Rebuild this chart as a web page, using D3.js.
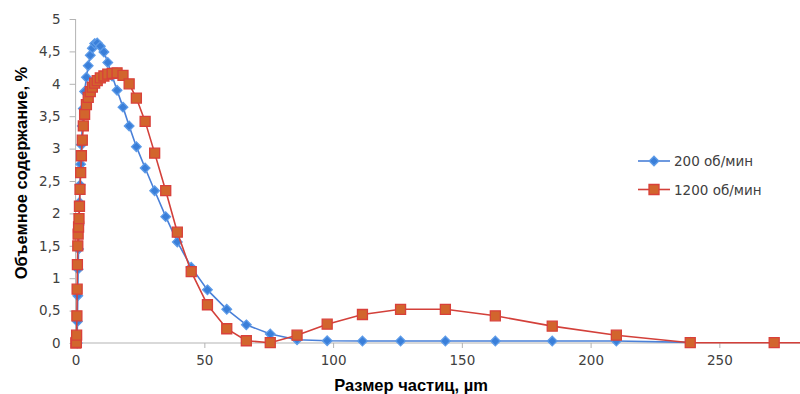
<!DOCTYPE html>
<html>
<head>
<meta charset="utf-8">
<script src="https://cdn.jsdelivr.net/npm/d3@7/dist/d3.min.js"></script>
<style>
  html, body { margin: 0; padding: 0; background: #fff; }
  svg { display: block; }
</style>
</head>
<body>
<svg id="chart" width="800" height="394"></svg>
<script>
// ---- data ----
const seriesNames = ["200 об/мин", "1200 об/мин"];
const xTicks = [0, 50, 100, 150, 200, 250];
const yTicks = [0, 0.5, 1, 1.5, 2, 2.5, 3, 3.5, 4, 4.5, 5];

const blueX = [0.6, 0.7, 0.85, 0.98, 1.15, 1.32, 1.5, 1.72, 1.97, 2.25, 2.6, 3.0, 3.5, 4.2, 4.9, 5.7, 6.5, 7.4, 8.4, 9.6, 11.0, 12.5, 14.2, 16.1, 18.4, 20.8, 23.6, 27.0, 30.7, 35.0, 39.5, 44.9, 51.2, 58.7, 66.3, 75.6, 86.0, 97.7, 111.4, 126.2, 143.6, 163.0, 185.1, 210.0, 238.7];
const blueY = [0, 0.33, 0.73, 1.14, 1.45, 1.82, 2.17, 2.44, 2.76, 3.06, 3.35, 3.62, 3.88, 4.10, 4.28, 4.44, 4.55, 4.62, 4.63, 4.58, 4.49, 4.33, 4.12, 3.90, 3.64, 3.35, 3.03, 2.70, 2.35, 1.95, 1.56, 1.17, 0.82, 0.52, 0.28, 0.14, 0.05, 0.035, 0.03, 0.03, 0.03, 0.03, 0.03, 0.03, 0.01];

const redX = [0.1, 0.3, 0.4, 0.5, 0.6, 0.7, 0.85, 0.98, 1.15, 1.32, 1.5, 1.72, 1.97, 2.25, 2.6, 3.0, 3.5, 4.2, 4.9, 5.7, 6.5, 7.4, 8.4, 9.6, 11.0, 12.5, 14.2, 16.1, 18.4, 20.8, 23.6, 27.0, 30.7, 35.0, 39.5, 44.9, 51.2, 58.7, 66.3, 75.6, 86.0, 97.7, 111.4, 126.2, 143.6, 163.0, 185.1, 210.0, 238.7, 271.3, 308.0];
const redY = [0, 0.01, 0.12, 0.42, 0.83, 1.21, 1.50, 1.68, 1.79, 1.92, 2.11, 2.37, 2.63, 2.89, 3.13, 3.35, 3.53, 3.68, 3.79, 3.88, 3.95, 4.01, 4.05, 4.09, 4.12, 4.15, 4.16, 4.17, 4.13, 4.00, 3.78, 3.42, 2.93, 2.35, 1.71, 1.10, 0.59, 0.22, 0.035, 0.005, 0.12, 0.29, 0.44, 0.52, 0.52, 0.42, 0.26, 0.12, 0.005, 0.005, 0];

// ---- layout ----
const svg = d3.select("#chart");
const x = d3.scaleLinear().domain([0, 300]).range([75.6, 75.6 + 300 * 2.575]);
const y = d3.scaleLinear().domain([0, 5]).range([343, 19]);
const axisColor = "#b3b3b3";
const textColor = "#404040";
const fmt = v => String(v).replace(".", ",");

// y axis
const yAxis = svg.append("g").attr("transform", `translate(${x(0)},0)`)
  .call(d3.axisLeft(y).tickValues(yTicks).tickSize(6).tickPadding(9).tickFormat(fmt));
yAxis.select(".domain").attr("stroke", axisColor).attr("d", `M0,${y(5)}V${y(0)}`);
yAxis.selectAll(".tick line").attr("stroke", axisColor);
yAxis.selectAll(".tick text").attr("fill", textColor)
  .style("font-family", "'DejaVu Sans', sans-serif").style("font-size", "13.5px");

// x axis
const xAxis = svg.append("g").attr("transform", `translate(0,${y(0)})`)
  .call(d3.axisBottom(x).tickValues(xTicks).tickSize(5).tickPadding(7).tickFormat(d3.format("d")));
xAxis.select(".domain").attr("stroke", axisColor).attr("d", `M${x(0)},0H${x(300)}`);
xAxis.selectAll(".tick line").attr("stroke", axisColor);
xAxis.selectAll(".tick text").attr("fill", textColor)
  .style("font-family", "'DejaVu Sans', sans-serif").style("font-size", "13.5px");

// axis titles
svg.append("text")
  .attr("transform", `translate(27,${(y(0) + y(5)) / 2 - 8}) rotate(-90)`)
  .attr("text-anchor", "middle")
  .style("font-family", "'Liberation Sans', Arial, sans-serif")
  .style("font-size", "16.5px").style("font-weight", "bold").attr("fill", "#000")
  .text("Объемное содержание, %");
svg.append("text")
  .attr("x", 411).attr("y", 391)
  .attr("text-anchor", "middle")
  .style("font-family", "'Liberation Sans', Arial, sans-serif")
  .style("font-size", "16.5px").style("font-weight", "bold").attr("fill", "#000")
  .text("Размер частиц, µm");

// series
const blue = blueX.map((v, i) => [v, blueY[i]]);
const red = redX.map((v, i) => [v, redY[i]]);
const line = d3.line().x(d => x(d[0])).y(d => y(d[1]));

const styles = [
  { line: "#4a80d8", fill: "#3a7fd9", stroke: "#5d9be8" },
  { line: "#d3403a", fill: "#d2652d", stroke: "#d9403a" }
];
const diamond = "M0,-4.8L4.8,0L0,4.8L-4.8,0Z";
const square = "M-5,-5H5V5H-5Z";

function drawSeries(data, st, shape) {
  svg.append("path").datum(data).attr("d", line)
    .attr("fill", "none").attr("stroke", st.line).attr("stroke-width", 1.6);
  svg.append("g").selectAll("path").data(data).join("path")
    .attr("transform", d => `translate(${x(d[0])},${y(d[1])})`)
    .attr("d", shape)
    .attr("fill", st.fill).attr("stroke", st.stroke).attr("stroke-width", 1.3);
}
drawSeries(blue, styles[0], diamond);
drawSeries(red, styles[1], square);

// legend
const legendY = [161, 189.5];
const shapes = [diamond, square];
seriesNames.forEach((name, i) => {
  const g = svg.append("g").attr("transform", `translate(0,${legendY[i]})`);
  g.append("line").attr("x1", 638).attr("x2", 670).attr("y1", 0).attr("y2", 0)
    .attr("stroke", styles[i].line).attr("stroke-width", 1.6);
  g.append("path").attr("transform", "translate(654,0)").attr("d", shapes[i])
    .attr("fill", styles[i].fill).attr("stroke", styles[i].stroke).attr("stroke-width", 1.3);
  g.append("text").attr("x", 674).attr("y", 5)
    .style("font-family", "'DejaVu Sans', sans-serif").style("font-size", "13.5px")
    .attr("fill", textColor).text(name);
});
</script>
</body>
</html>
